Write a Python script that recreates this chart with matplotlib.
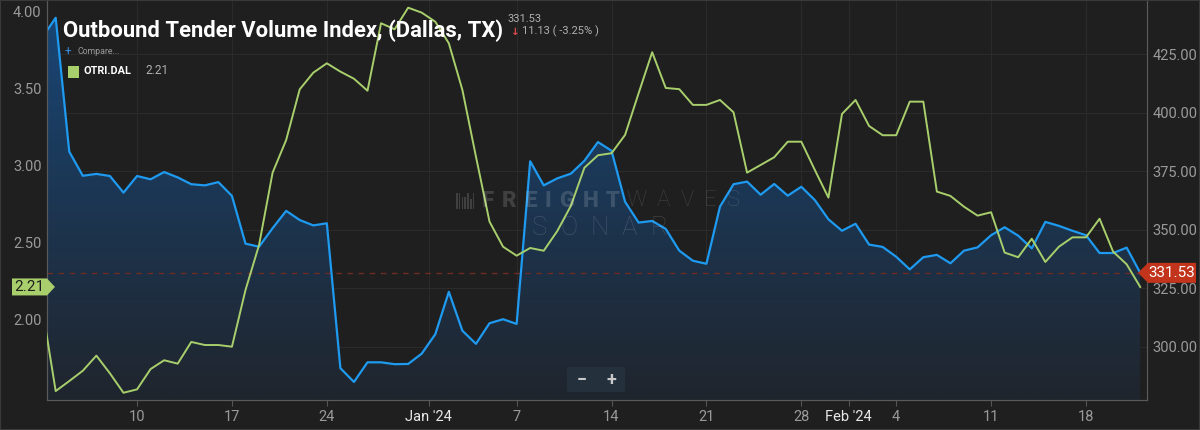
import matplotlib
matplotlib.use("Agg")
import matplotlib.pyplot as plt
import matplotlib.dates as mdates
from matplotlib.patches import Polygon, FancyBboxPatch, Rectangle
import numpy as np
import pandas as pd

plt.rcParams['font.family'] = ['Roboto', 'DejaVu Sans']

# Data (daily, Dec 3 2023 - Feb 22 2024)
dates = pd.date_range('2023-12-03', periods=82, freq='D')
otvi_dal = [432.0, 440.5, 383.3, 373.0, 373.8, 372.9, 365.8, 372.9, 371.5, 374.6,
            372.3, 369.4, 368.9, 370.3, 364.4, 344.0, 342.7, 350.6, 358.0, 354.1,
            351.8, 352.7, 290.8, 284.9, 293.3, 293.3, 292.5, 292.6, 297.0, 305.3,
            323.4, 306.8, 301.2, 310.0, 311.7, 309.7, 379.2, 368.9, 371.9, 373.9,
            379.4, 387.4, 383.7, 361.9, 353.0, 353.7, 350.3, 341.0, 336.7, 335.4,
            359.8, 369.4, 370.5, 364.9, 369.5, 364.5, 368.3, 362.6, 354.4, 349.5,
            352.5, 343.6, 342.6, 338.4, 333.0, 338.2, 339.2, 335.6, 341.0, 342.4,
            347.6, 351.0, 347.4, 342.0, 353.3, 351.6, 349.5, 347.6, 340.0, 340.0,
            342.3, 331.53]
otri_dal = [2.08, 1.534, 1.599, 1.666, 1.764, 1.649, 1.523, 1.545, 1.677, 1.734,
            1.712, 1.853, 1.833, 1.833, 1.822, 2.19, 2.482, 2.952, 3.164, 3.493,
            3.601, 3.662, 3.608, 3.562, 3.484, 3.922, 3.883, 4.023, 3.991, 3.932,
            3.792, 3.489, 3.056, 2.634, 2.471, 2.413, 2.463, 2.445, 2.573, 2.736,
            2.984, 3.065, 3.078, 3.197, 3.468, 3.734, 3.502, 3.494, 3.392, 3.392,
            3.424, 3.344, 2.952, 3.002, 3.052, 3.153, 3.153, 2.969, 2.79, 3.333,
            3.424, 3.255, 3.195, 3.195, 3.413, 3.413, 2.829, 2.801, 2.731, 2.673,
            2.695, 2.433, 2.403, 2.523, 2.372, 2.471, 2.532, 2.532, 2.653, 2.439,
            2.357, 2.21]

left_ticks = [2.0, 2.5, 3.0, 3.5, 4.0]
right_ticks = [300, 325, 350, 375, 400, 425]
week_ticks = ['2023-12-10', '2023-12-17', '2023-12-24', '2024-01-07', '2024-01-14',
              '2024-01-21', '2024-01-28', '2024-02-04', '2024-02-11', '2024-02-18']
week_labels = ['10', '17', '24', '7', '14', '21', '28', '4', '11', '18']
month_ticks = ['2024-01-01', '2024-02-01']
month_labels = ["Jan '24", "Feb '24"]

BG = '#1f1f1f'
GRID = '#2b2b2b'
TICKC = '#9a9a9a'
BLUE = '#1e9af0'
GREEN = '#a8cf6c'

fig = plt.figure(figsize=(12, 4.3), dpi=100, facecolor=BG)
ax = fig.add_axes([47 / 1200, 30 / 430, 1100 / 1200, 400 / 430])
ax.set_facecolor(BG)

x0 = dates[0] + pd.Timedelta(hours=8.6)
x1 = dates[-1] + pd.Timedelta(hours=12)
ylo, yhi = 277.2, 448.1

# blue series (right scale) on the bottom axes, gradient fill below it
fill = ax.fill_between(dates, otvi_dal, ylo, color='none', lw=0)
grad = np.linspace(0, 1, 256)[:, None]
top_c = np.array([0x18, 0x47, 0x78]) / 255
bot_c = np.array([0x20, 0x25, 0x2d]) / 255
img = (top_c * (1 - grad) + bot_c * grad).reshape(256, 1, 3)
xl = mdates.date2num([x0, x1])
im = ax.imshow(img, aspect='auto', extent=[xl[0], xl[1], ylo, yhi], origin='upper', zorder=1)
im.set_clip_path(fill.get_paths()[0], transform=ax.transData)
ax.plot(dates, otvi_dal, color=BLUE, lw=1.6, zorder=3)
ax.axhline(otvi_dal[-1], color='#6e2b22', lw=1, ls=(0, (4, 4)), zorder=2)
ax.set_xlim(x0, x1)
ax.set_ylim(ylo, yhi)

# green series (left scale) drawn on top
ax2 = ax.twinx()
ax2.patch.set_visible(False)
ax2.plot(dates, otri_dal, color=GREEN, lw=1.4, zorder=4)
ax2.set_ylim(1.476, 4.073)
ax2.set_xlim(x0, x1)
ax2.yaxis.tick_left()
ax.yaxis.tick_right()

# ticks
xt = [pd.Timestamp(d) for d in week_ticks] + [pd.Timestamp(d) - pd.Timedelta(hours=12) for d in month_ticks]
ax.set_xticks(xt)
ax.set_xticklabels(week_labels + month_labels)
ax.tick_params(axis='x', colors='#555555', labelcolor=TICKC, labelsize=10.5, length=4, pad=3)
for lbl in ax.get_xticklabels()[-2:]:
    lbl.set_color('#e8e8e8')
ax.set_yticks(right_ticks)
ax.set_yticklabels([f'{v:.2f}' for v in right_ticks])
ax.tick_params(axis='y', labelcolor=TICKC, labelsize=10.5, length=0, pad=4)
ax2.set_yticks(left_ticks)
ax2.set_yticklabels([f'{v:.2f}' for v in left_ticks])
ax2.tick_params(axis='y', labelcolor=TICKC, labelsize=10.5, length=0, pad=4)

ax.grid(True, color=GRID, lw=0.8, zorder=0)
ax.set_axisbelow(True)
for a in (ax, ax2):
    a.spines['top'].set_visible(False)
    for s in ('left', 'right', 'bottom'):
        a.spines[s].set_color('#5a5a5a')

# title block
fig.text(63 / 1200, 1 - 31 / 430, 'Outbound Tender Volume Index, (Dallas, TX)', color='white',
         fontsize=15.8, fontweight='bold', va='center', ha='left')
fig.text(508 / 1200, 1 - 19.5 / 430, '331.53', color='#b0b0b0', fontsize=8, va='center')
fig.text(511 / 1200, 1 - 31.5 / 430, '\u2193', color='#e04a4a', fontsize=7.5, va='center',
         fontweight='bold', family=['DejaVu Sans'])
fig.text(522 / 1200, 1 - 31.5 / 430, '11.13 ( -3.25% )', color='#b0b0b0', fontsize=8, va='center')
fig.text(65 / 1200, 1 - 52 / 430, '+', color='#3a8ee0', fontsize=8.5, va='center')
fig.text(77 / 1200, 1 - 52 / 430, 'Compare...', color='#9a9a9a', fontsize=6.3, va='center')
fig.patches.append(Rectangle((67.5 / 1200, 1 - 77.5 / 430), 11.5 / 1200, 11.5 / 430,
                             transform=fig.transFigure, facecolor=GREEN, edgecolor='none'))
fig.text(83 / 1200, 1 - 71 / 430, 'OTRI.DAL', color='white', fontsize=7.8, fontweight='bold', va='center')
fig.text(145 / 1200, 1 - 71 / 430, '2.21', color='#b0b0b0', fontsize=8.5, va='center')

# watermark: letters spread to a given pixel span
renderer = fig.canvas.get_renderer()
wm = dict(color='white', alpha=0.15, va='center', ha='left', zorder=5)

def spread_word(word, xa, xb, y, size, weight):
    texts = [fig.text(0, 1 - y / 430, ch, fontsize=size, fontweight=weight, **wm) for ch in word]
    widths = [t.get_window_extent(renderer).width for t in texts]
    gap = (xb - xa - sum(widths)) / (len(word) - 1)
    x = xa
    for t, w in zip(texts, widths):
        t.set_x(x / 1200)
        x += w + gap

spread_word('FREIGHT', 482, 620, 201, 16, 'black')
spread_word('WAVES', 626, 740, 201, 16, 'light')
spread_word('SONAR', 532, 667, 228, 18.5, 'light')
for i, hgt in enumerate([16, 16, 12, 12, 16, 10, 16]):
    fig.patches.append(Rectangle(((456 + i * 2.8) / 1200, (430 - 209) / 430), 1.6 / 1200, hgt / 430,
                                 transform=fig.transFigure, facecolor='white', alpha=0.15,
                                 edgecolor='none', zorder=5))

# value flags on the axes
fig.canvas.draw()
def fig_y(a, v):
    return fig.transFigure.inverted().transform(a.transData.transform((mdates.date2num(x0), v)))[1]

gy = fig_y(ax2, otri_dal[-1])
h = 8.5 / 430
fig.patches.append(Polygon([(12 / 1200, gy - h), (47 / 1200, gy - h), (55 / 1200, gy),
                            (47 / 1200, gy + h), (12 / 1200, gy + h)], closed=True,
                           transform=fig.transFigure, facecolor=GREEN, edgecolor='none', zorder=6))
fig.text(29 / 1200, gy, '2.21', color='#1f1f1f', fontsize=11, ha='center', va='center', zorder=7)

ry = fig_y(ax, otvi_dal[-1])
h = 10 / 430
fig.patches.append(Polygon([(1138 / 1200, ry), (1148 / 1200, ry + h), (1196 / 1200, ry + h),
                            (1196 / 1200, ry - h), (1148 / 1200, ry - h)], closed=True,
                           transform=fig.transFigure, facecolor='#c2351c', edgecolor='none', zorder=6))
fig.text(1172 / 1200, ry, '331.53', color='white', fontsize=11, ha='center', va='center', zorder=7)

# zoom buttons
fig.patches.append(FancyBboxPatch((567 / 1200, 1 - 392 / 430), 58 / 1200, 25 / 430,
                                  boxstyle='round,pad=0,rounding_size=0.004', transform=fig.transFigure,
                                  facecolor='#24303c', edgecolor='none', zorder=6))
fig.text(582 / 1200, 1 - 380 / 430, '\u2212', color='#c8c8c8', fontsize=13, ha='center', va='center',
         fontweight='bold', zorder=7)
fig.text(611 / 1200, 1 - 380 / 430, '+', color='#c8c8c8', fontsize=13, ha='center', va='center',
         fontweight='bold', zorder=7)

# thin frame around the picture
fig.patches.append(Rectangle((0, 0), 1, 1, transform=fig.transFigure, facecolor='none',
                             edgecolor='#3a3a3a', lw=1.5, zorder=8))

fig.savefig('out.png', dpi=100, facecolor=BG)
